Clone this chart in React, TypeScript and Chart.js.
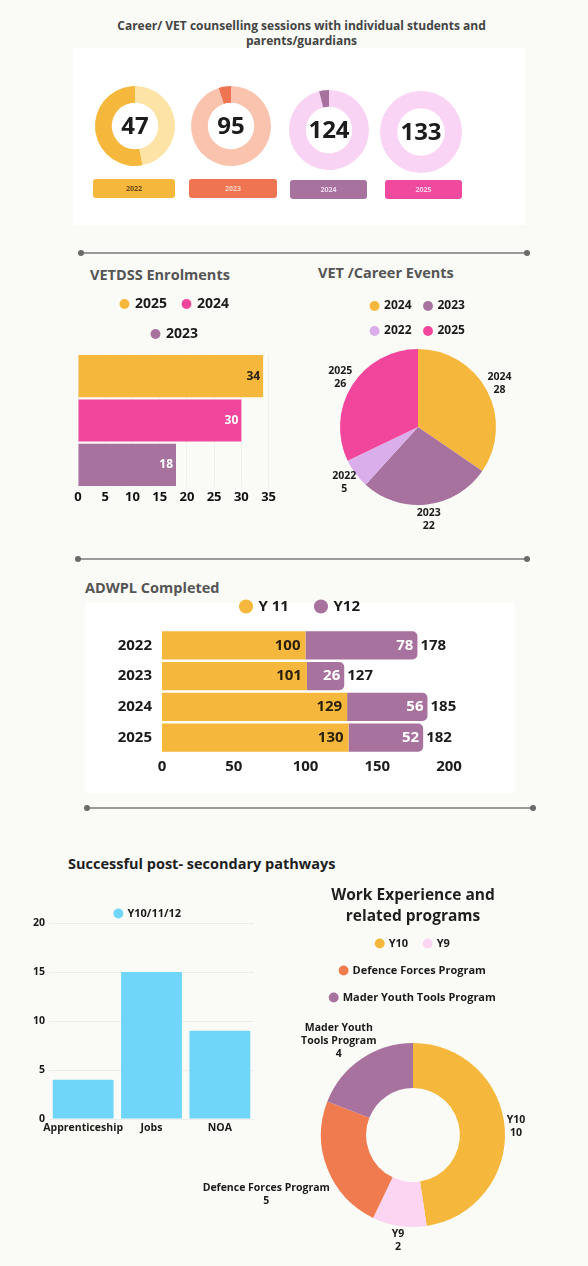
import React, { useEffect, useRef } from 'react';
import { Chart, registerables } from 'chart.js';

Chart.register(...registerables);

const FONT = '"Open Sans", "DejaVu Sans", sans-serif';
Chart.defaults.font.family = FONT;
Chart.defaults.font.weight = 'bold';
Chart.defaults.color = '#1a1a1a';

// ---------- DATA ----------
// Counselling sessions
const sessionYears = ['2022', '2023', '2024', '2025'];
const sessionCounts = [47, 95, 124, 133];
const sessionRingFilled = [47, 95, 96, 100];
const sessionRingRest = [53, 5, 4, 0];

// VETDSS enrolments
const vetdssYears = ['2025', '2024', '2023'];
const vetdssValues = [34, 30, 18];
const vetdssMax = 35;
const vetdssStep = 5;

// VET / Career events
const eventYears = ['2024', '2023', '2022', '2025'];
const eventValues = [28, 22, 5, 26];

// ADWPL completed
const adwplYears = ['2022', '2023', '2024', '2025'];
const adwplSeries = ['Y 11', 'Y12'];
const adwplY11 = [100, 101, 129, 130];
const adwplY12 = [78, 26, 56, 52];
const adwplTotals = [178, 127, 185, 182];
const adwplMax = 200;
const adwplStep = 50;

// Post-secondary pathways
const pathwaySeries = 'Y10/11/12';
const pathwayCategories = ['Apprenticeship', 'Jobs', 'NOA'];
const pathwayValues = [4, 15, 9];
const pathwayMax = 20;
const pathwayStep = 5;

// Work experience
const workLabels = ['Y10', 'Y9', 'Defence Forces Program', 'Mader Youth Tools Program'];
const workValues = [10, 2, 5, 4];
const workLabelLines = [['Y10'], ['Y9'], ['Defence Forces Program'], ['Mader Youth', 'Tools Program']];

// ---------- COLOURS ----------
const YELLOW = '#f6b83c';
const PINK = '#f2469c';
const PURPLE = '#a8729f';
const LILAC = '#d9aeea';
const ORANGE = '#f07b4f';
const BLUSH = '#fbd5f2';
const SKY = '#6fd6f9';

const ringLight = ['#fde4a6', '#f9c3ae', '#f8d3f3', '#f9d4f4'];
const ringDark = [YELLOW, '#ef7452', PURPLE, '#f04a9e'];
const rectText = ['#6b4a12', '#fbd3c5', '#f0d8ee', '#fbd0e6'];

// ---------- PLUGINS ----------
function legendGap(extra: number) {
  return {
    id: 'legendGap',
    afterInit(chart: any) {
      const lg = chart.legend;
      if (!lg) return;
      const orig = lg.fit.bind(lg);
      lg.fit = function () {
        orig();
        this.height += extra;
      };
    },
  };
}

type BarLabelItem = {
  datasetIndex: number;
  color: string;
  font: string;
  pad: number;
  outside?: boolean;
  texts?: (string | number)[];
};

function barLabels(items: BarLabelItem[]) {
  return {
    id: 'barLabels',
    afterDatasetsDraw(chart: any) {
      const ctx = chart.ctx;
      ctx.save();
      ctx.textBaseline = 'middle';
      items.forEach((it) => {
        const meta = chart.getDatasetMeta(it.datasetIndex);
        const ds = chart.data.datasets[it.datasetIndex];
        meta.data.forEach((bar: any, i: number) => {
          const text = String(it.texts ? it.texts[i] : ds.data[i]);
          ctx.font = it.font;
          ctx.fillStyle = it.color;
          if (it.outside) {
            ctx.textAlign = 'left';
            ctx.fillText(text, bar.x + it.pad, bar.y);
          } else {
            ctx.textAlign = 'right';
            ctx.fillText(text, bar.x - it.pad, bar.y);
          }
        });
      });
      ctx.restore();
    },
  };
}

function arcOutsideLabels(lines: string[][], font: string, lineHeight: number, pad: number, nudgeY: number[] = []) {
  return {
    id: 'arcOutsideLabels',
    afterDatasetsDraw(chart: any) {
      const ctx = chart.ctx;
      const meta = chart.getDatasetMeta(0);
      ctx.save();
      ctx.font = font;
      ctx.fillStyle = '#1a1a1a';
      ctx.textAlign = 'center';
      ctx.textBaseline = 'middle';
      meta.data.forEach((arc: any, i: number) => {
        const p = arc.getProps(['x', 'y', 'startAngle', 'endAngle', 'outerRadius'], true);
        const mid = (p.startAngle + p.endAngle) / 2;
        const dx = Math.cos(mid);
        const dy = Math.sin(mid);
        const ls = lines[i];
        const w = Math.max(...ls.map((l) => ctx.measureText(l).width));
        const h = ls.length * lineHeight;
        const cx = p.x + dx * (p.outerRadius + pad) + (dx * w) / 2;
        const cy = p.y + dy * (p.outerRadius + pad) + (dy * h) / 2 + (nudgeY[i] || 0);
        ls.forEach((l, k) => ctx.fillText(l, cx, cy - h / 2 + lineHeight * (k + 0.5)));
      });
      ctx.restore();
    },
  };
}

function centerText(text: string) {
  return {
    id: 'centerText',
    afterDatasetsDraw(chart: any) {
      const ctx = chart.ctx;
      const a = chart.chartArea;
      ctx.save();
      ctx.font = `bold 24px ${FONT}`;
      ctx.fillStyle = '#1c1c1c';
      ctx.textAlign = 'center';
      ctx.textBaseline = 'middle';
      ctx.fillText(text, (a.left + a.right) / 2, (a.top + a.bottom) / 2 + 1);
      ctx.restore();
    },
  };
}

const noInteract = { events: [] as any[], animation: false as const, responsive: false };

// ---------- CHART CONFIGS ----------
function sessionDonut(i: number) {
  return () => ({
    type: 'doughnut',
    data: {
      labels: ['filled', 'rest'],
      datasets: [
        {
          data: [sessionRingFilled[i], sessionRingRest[i]],
          backgroundColor: [ringLight[i], ringDark[i]],
          borderWidth: 0,
          radius: i === 3 ? 41 : 40,
          cutout: '58%',
        },
      ],
    },
    options: {
      ...noInteract,
      layout: { padding: 0 },
      plugins: { legend: { display: false }, tooltip: { enabled: false } },
    },
    plugins: [centerText(String(sessionCounts[i]))],
  });
}

const legendLabels = (size: number, box: number, padding: number) => ({
  usePointStyle: true,
  pointStyle: 'circle',
  boxWidth: box,
  boxHeight: box,
  padding,
  color: '#1a1a1a',
  font: { size, weight: 'bold' },
});

const vetdssColors = [YELLOW, PINK, PURPLE];
const vetdssLabelColors = ['#2b2110', '#ffffff', '#ffffff'];

function vetdssConfig() {
  return {
    type: 'bar',
    data: {
      labels: [''],
      datasets: vetdssYears.map((y, i) => ({
        label: y,
        data: [vetdssValues[i]],
        backgroundColor: vetdssColors[i],
        borderWidth: 0,
        categoryPercentage: 1,
        barPercentage: 0.95,
      })),
    },
    options: {
      ...noInteract,
      indexAxis: 'y',
      layout: { padding: { left: 8, right: 6, top: 0, bottom: 4 } },
      scales: {
        x: {
          min: 0,
          max: vetdssMax,
          ticks: { stepSize: vetdssStep, font: { size: 13, weight: 'bold' }, color: '#111', padding: 2 },
          grid: { color: '#efefef', drawTicks: false },
          border: { display: false },
          afterFit: (s: any) => {
            s.height = 18;
          },
        },
        y: { display: false },
      },
      plugins: {
        legend: { labels: legendLabels(14, 7, 16) },
        tooltip: { enabled: false },
      },
    },
    plugins: [
      legendGap(3),
      barLabels(
        vetdssYears.map((_, i) => ({
          datasetIndex: i,
          color: vetdssLabelColors[i],
          font: `bold 12px ${FONT}`,
          pad: 3,
        }))
      ),
    ],
  };
}

function eventsConfig() {
  return {
    type: 'pie',
    data: {
      labels: eventYears,
      datasets: [
        {
          data: eventValues,
          backgroundColor: [YELLOW, PURPLE, LILAC, PINK],
          borderWidth: 0,
          radius: 78,
        },
      ],
    },
    options: {
      ...noInteract,
      layout: { padding: { left: 40, right: 44, top: 0, bottom: 38 } },
      plugins: {
        legend: { labels: legendLabels(12, 7, 13) },
        tooltip: { enabled: false },
      },
    },
    plugins: [
      arcOutsideLabels(
        eventYears.map((y, i) => [y, String(eventValues[i])]),
        `bold 10.5px ${FONT}`,
        13,
        2
      ),
    ],
  };
}

function adwplConfig() {
  const font = { size: 15, weight: 'bold' };
  return {
    type: 'bar',
    data: {
      labels: adwplYears,
      datasets: [
        {
          label: adwplSeries[0],
          data: adwplY11,
          backgroundColor: YELLOW,
          borderWidth: 0,
          borderRadius: 0,
          categoryPercentage: 1,
          barPercentage: 0.92,
        },
        {
          label: adwplSeries[1],
          data: adwplY12,
          backgroundColor: PURPLE,
          borderWidth: 0,
          borderRadius: 5,
          categoryPercentage: 1,
          barPercentage: 0.92,
        },
      ],
    },
    options: {
      ...noInteract,
      indexAxis: 'y',
      layout: { padding: 0 },
      scales: {
        x: {
          stacked: true,
          min: 0,
          max: adwplMax,
          ticks: { stepSize: adwplStep, font, color: '#1b1b1b', padding: 5 },
          grid: { display: false, drawTicks: false },
          border: { display: false },
          afterFit: (s: any) => {
            s.height = 24;
          },
        },
        y: {
          stacked: true,
          ticks: { font, color: '#1b1b1b', padding: 10 },
          grid: { display: false, drawTicks: false },
          border: { display: false },
          afterFit: (s: any) => {
            s.width = 77;
          },
        },
        y2: {
          type: 'linear',
          position: 'right',
          display: true,
          ticks: { display: false },
          grid: { display: false, drawTicks: false },
          border: { display: false },
          afterFit: (s: any) => {
            s.width = 67;
          },
        },
      },
      plugins: {
        legend: { labels: legendLabels(15, 10, 27) },
        tooltip: { enabled: false },
      },
    },
    plugins: [
      legendGap(6),
      barLabels([
        { datasetIndex: 0, color: '#2a1f0a', font: `bold 15px ${FONT}`, pad: 5 },
        { datasetIndex: 1, color: '#ffffff', font: `bold 15px ${FONT}`, pad: 4 },
        { datasetIndex: 1, color: '#1b1b1b', font: `bold 15px ${FONT}`, pad: 3, outside: true, texts: adwplTotals },
      ]),
    ],
  };
}

function pathwaysConfig() {
  const font = { size: 10.5, weight: 'bold' };
  return {
    type: 'bar',
    data: {
      labels: pathwayCategories,
      datasets: [
        {
          label: pathwaySeries,
          data: pathwayValues,
          backgroundColor: SKY,
          borderWidth: 0,
          borderRadius: 1,
          categoryPercentage: 1,
          barPercentage: 0.89,
        },
      ],
    },
    options: {
      ...noInteract,
      layout: { padding: { left: 0, right: 0, top: 0, bottom: 5 } },
      scales: {
        x: {
          ticks: { font, color: '#1a1a1a', padding: 3, maxRotation: 0, minRotation: 0, autoSkip: false },
          grid: { display: false, drawTicks: false },
          border: { display: false },
          afterFit: (s: any) => {
            s.height = 16;
          },
        },
        y: {
          min: 0,
          max: pathwayMax,
          ticks: { stepSize: pathwayStep, font, color: '#1a1a1a', padding: 4 },
          grid: { color: '#ececec', drawTicks: false },
          border: { display: false },
          afterFit: (s: any) => {
            s.width = 41;
          },
        },
        y2: {
          type: 'linear',
          position: 'right',
          display: true,
          ticks: { display: false },
          grid: { display: false, drawTicks: false },
          border: { display: false },
          afterFit: (s: any) => {
            s.width = 34;
          },
        },
      },
      plugins: {
        legend: { labels: legendLabels(11, 7, 10) },
        tooltip: { enabled: false },
      },
    },
    plugins: [legendGap(-6)],
  };
}

function workConfig() {
  return {
    type: 'doughnut',
    data: {
      labels: workLabels,
      datasets: [
        {
          data: workValues,
          backgroundColor: [YELLOW, BLUSH, ORANGE, PURPLE],
          borderWidth: 0,
          radius: 92,
          cutout: '51%',
        },
      ],
    },
    options: {
      ...noInteract,
      layout: { padding: { left: 110, right: 62, top: 0, bottom: 9 } },
      plugins: {
        legend: { labels: legendLabels(11, 7, 16) },
        tooltip: { enabled: false },
      },
    },
    plugins: [
      arcOutsideLabels(
        workLabelLines.map((ls, i) => [...ls, String(workValues[i])]),
        `bold 10.5px ${FONT}`,
        13,
        2,
        [0, 0, 20, 0]
      ),
    ],
  };
}

// ---------- COMPONENTS ----------
function ChartCanvas({ left, top, width, height, make }: { left: number; top: number; width: number; height: number; make: () => any }) {
  const ref = useRef<HTMLCanvasElement>(null);
  useEffect(() => {
    const chart = new Chart(ref.current as HTMLCanvasElement, make());
    return () => chart.destroy();
  }, []);
  return (
    <canvas
      ref={ref}
      width={width}
      height={height}
      style={{ position: 'absolute', left, top, width, height }}
    />
  );
}

function Rule({ left, top, width }: { left: number; top: number; width: number }) {
  const dot = (x: number) => (
    <div style={{ position: 'absolute', left: x - 3, top: top - 2, width: 6, height: 6, borderRadius: 3, background: '#6a6a6a' }} />
  );
  return (
    <>
      <div style={{ position: 'absolute', left, top, width, height: 2, background: '#9a9a9a' }} />
      {dot(left)}
      {dot(left + width)}
    </>
  );
}

function Title({ left, top, width, size, color, align, lh, children }: any) {
  return (
    <div
      style={{
        position: 'absolute',
        left,
        top,
        width,
        fontSize: size,
        fontWeight: 700,
        color,
        textAlign: align || 'left',
        lineHeight: `${lh}px`,
        whiteSpace: 'nowrap',
      }}
    >
      {children}
    </div>
  );
}

const donutCenters = [
  [134.5, 125.5],
  [230.5, 126],
  [329, 129.5],
  [421, 132],
];
const yearRects = [
  { left: 93, top: 179, width: 82 },
  { left: 189, top: 179, width: 88 },
  { left: 290, top: 180, width: 77 },
  { left: 385, top: 180, width: 77 },
];

export default function App() {
  return (
    <div
      style={{
        position: 'absolute',
        left: 0,
        top: 0,
        width: 588,
        height: 1266,
        background: '#fafaf6',
        overflow: 'hidden',
        fontFamily: FONT,
      }}
    >
      {/* cards */}
      <div style={{ position: 'absolute', left: 73, top: 48, width: 452, height: 177, background: '#ffffff' }} />
      <div style={{ position: 'absolute', left: 85, top: 603, width: 430, height: 190, background: '#ffffff' }} />

      <Title left={50} top={18} width={503} size={12} color="#444" align="center" lh={15}>
        Career/ VET counselling sessions with individual students and
        <br />
        parents/guardians
      </Title>

      {sessionYears.map((y, i) => (
        <ChartCanvas
          key={y}
          left={donutCenters[i][0] - 50}
          top={donutCenters[i][1] - 50}
          width={100}
          height={100}
          make={sessionDonut(i)}
        />
      ))}
      {sessionYears.map((y, i) => (
        <div
          key={'r' + y}
          style={{
            position: 'absolute',
            left: yearRects[i].left,
            top: yearRects[i].top,
            width: yearRects[i].width,
            height: 19,
            borderRadius: 3,
            background: ringDark[i],
            color: rectText[i],
            fontSize: 7,
            fontWeight: 700,
            lineHeight: '19px',
            textAlign: 'center',
          }}
        >
          {y}
        </div>
      ))}

      <Rule left={81} top={252} width={446} />

      <Title left={90} top={265} size={14.5} color="#555" lh={20}>
        VETDSS Enrolments
      </Title>
      <ChartCanvas left={70} top={281} width={208} height={228} make={vetdssConfig} />

      <Title left={318} top={263} size={14.5} color="#555" lh={20}>
        VET /Career Events
      </Title>
      <ChartCanvas left={300} top={287} width={240} height={258} make={eventsConfig} />

      <Rule left={78} top={558} width={449} />

      <Title left={85} top={578} size={14.5} color="#555" lh={20}>
        ADWPL Completed
      </Title>
      <ChartCanvas left={85} top={572} width={431} height={205} make={adwplConfig} />

      <Rule left={87} top={807} width={446} />

      <Title left={68} top={854} size={14.5} color="#1e1e1e" lh={20}>
        Successful post- secondary pathways
      </Title>
      <ChartCanvas left={8} top={898} width={280} height={242} make={pathwaysConfig} />

      <Title left={283} top={884} width={260} size={15.5} color="#1e1e1e" align="center" lh={21}>
        Work Experience and
        <br />
        related programs
      </Title>
      <ChartCanvas left={190} top={922} width={398} height={344} make={workConfig} />
    </div>
  );
}
